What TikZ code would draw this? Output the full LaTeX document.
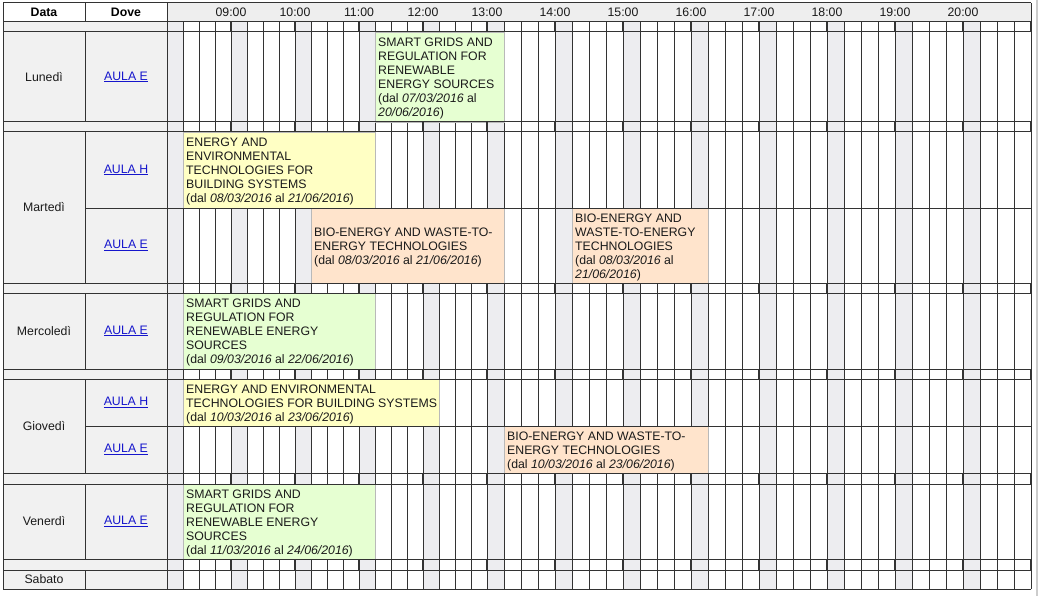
\documentclass[tikz,border=0pt]{standalone}
\usepackage{fontspec}
\setmainfont{Liberation Sans}
\definecolor{cellgray}{HTML}{F1F1F1}
\definecolor{colgray}{HTML}{EDEDF0}
\definecolor{hdrgray}{HTML}{EEEEEE}
\definecolor{gridc}{HTML}{333333}
\definecolor{evyellow}{HTML}{FFFFC4}
\definecolor{evgreen}{HTML}{E6FFD2}
\definecolor{evorange}{HTML}{FFE4CC}
\definecolor{linkblue}{HTML}{1515CC}
\definecolor{txt}{HTML}{1A1A1A}
\newcommand\sxof[2]{\pgfmathsetmacro#1{(#2<=20)?(167+16*(#2)):(487+17*((#2)-20))}}
\newcommand\evt[7]{\sxof\ea{#2}\sxof\eb{#3}%
  \filldraw[evbox,fill=#6] (\ea,#4) rectangle (\eb,#5);%
  \node[evtext] (#1) at ({\ea+3},{(#4+#5)/2}) {#7};}
\begin{document}
\begin{tikzpicture}[x=1pt,y=-1pt,
  grid/.style={draw=gridc,line width=1pt},
  tick/.style={draw=gridc,line width=2.6pt},
  evbox/.style={draw=gray!55,line width=0.8pt},
  evtext/.style={anchor=west,align=left,inner sep=0pt,yshift=-1.5pt,text=txt,font=\fontsize{12.3}{14}\selectfont},
  daytxt/.style={inner sep=0pt,text=txt,font=\fontsize{12.3}{14}\selectfont},
  hdrtxt/.style={inner sep=0pt,text=black,font=\fontsize{12.3}{14}\selectfont\bfseries},
  hourtxt/.style={inner sep=0pt,text=txt,font=\fontsize{12.3}{14}\selectfont},
  link/.style={inner sep=0pt,text=linkblue,font=\fontsize{12.3}{14}\selectfont}]
\useasboundingbox (0,0) rectangle (1038,596);
\fill[white] (0,0) rectangle (1038,596);
% backgrounds
\fill[hdrgray] (167,3) rectangle (1031,22);
\fill[cellgray] (3,22) rectangle (167,589);
\foreach \h in {0,...,12}{%
  \sxof\xa{4*\h}\sxof\xb{4*\h+1}%
  \fill[colgray] (\xa,22) rectangle (\xb,589);
}
% slot lines
\foreach \s in {1,...,51}{%
  \sxof\xs{\s}%
  \draw[grid] (\xs,22) -- (\xs,589);
}
% events
\evt{lun}{13}{21}{32}{122}{evgreen}{SMART GRIDS AND\\REGULATION FOR\\RENEWABLE\\ENERGY SOURCES\\(dal \textit{07/03/2016} al\\\textit{20/06/2016})}
\evt{marH}{1}{13}{132}{208}{evyellow}{ENERGY AND\\ENVIRONMENTAL\\TECHNOLOGIES FOR\\BUILDING SYSTEMS\\(dal \textit{08/03/2016} al \textit{21/06/2016})}
\evt{marEa}{9}{21}{208}{283}{evorange}{BIO-ENERGY AND WASTE-TO-\\ENERGY TECHNOLOGIES\\(dal \textit{08/03/2016} al \textit{21/06/2016})}
\evt{marEb}{25}{33}{208}{283}{evorange}{BIO-ENERGY AND\\WASTE-TO-ENERGY\\TECHNOLOGIES\\(dal \textit{08/03/2016} al\\\textit{21/06/2016})}
\evt{mer}{1}{13}{293}{369}{evgreen}{SMART GRIDS AND\\REGULATION FOR\\RENEWABLE ENERGY\\SOURCES\\(dal \textit{09/03/2016} al \textit{22/06/2016})}
\evt{gioH}{1}{17}{379}{426}{evyellow}{ENERGY AND ENVIRONMENTAL\\TECHNOLOGIES FOR BUILDING SYSTEMS\\(dal \textit{10/03/2016} al \textit{23/06/2016})}
\evt{gioE}{21}{33}{426}{473}{evorange}{BIO-ENERGY AND WASTE-TO-\\ENERGY TECHNOLOGIES\\(dal \textit{10/03/2016} al \textit{23/06/2016})}
\evt{ven}{1}{13}{484}{559}{evgreen}{SMART GRIDS AND\\REGULATION FOR\\RENEWABLE ENERGY\\SOURCES\\(dal \textit{11/03/2016} al \textit{24/06/2016})}
% horizontal lines
\foreach \y in {3,22,32,122,132,283,293,369,379,473,484,559,570,589}{\draw[grid] (3,\y) -- (1031,\y);}
\foreach \y in {208,426}{\draw[grid] (85,\y) -- (1031,\y);}
% structural vertical lines
\draw[grid] (3,3) -- (3,589);
\draw[grid] (167,3) -- (167,589);
\draw[grid] (1031,3) -- (1031,589);
\foreach \a/\b in {3/22,32/122,132/283,293/369,379/473,484/559,570/589}{\draw[grid] (85,\a) -- (85,\b);}
% thick hour ticks in separator rows
\foreach \a/\b in {22/32,122/132,283/293,369/379,473/484,559/570}{%
  \foreach \k in {1,...,13}{%
    \sxof\xt{4*\k}%
    \draw[tick] (\xt,\a) -- (\xt,\b);
  }
}
% right edge strip
\draw[gray!40,line width=1.5pt] (1037,0) -- (1037,596);
% header texts
\node[hdrtxt] (hData) at (44,12.5) {Data};
\node[hdrtxt] (hDove) at (126,12.5) {Dove};
\foreach \k/\t in {1/09:00,2/10:00,3/11:00,4/12:00,5/13:00,6/14:00,7/15:00,8/16:00,9/17:00,10/18:00,11/19:00,12/20:00}{%
  \sxof\xh{4*\k}%
  \node[hourtxt] (hour\k) at (\xh,12.5) {\t};
}
% days
\node[daytxt] (dLun) at (44,77) {Lunedì};
\node[daytxt] (dMar) at (44,207.5) {Martedì};
\node[daytxt] (dMer) at (44,331) {Mercoledì};
\node[daytxt] (dGio) at (44,426) {Giovedì};
\node[daytxt] (dVen) at (44,521.5) {Venerdì};
\node[daytxt] (dSab) at (44,579.5) {Sabato};
% rooms
\node[link] (rLun) at (126,77) {\underline{AULA E}};
\node[link] (rMarH) at (126,170) {\underline{AULA H}};
\node[link] (rMarE) at (126,245.5) {\underline{AULA E}};
\node[link] (rMer) at (126,331) {\underline{AULA E}};
\node[link] (rGioH) at (126,402.5) {\underline{AULA H}};
\node[link] (rGioE) at (126,449.5) {\underline{AULA E}};
\node[link] (rVen) at (126,521.5) {\underline{AULA E}};
\end{tikzpicture}
\end{document}
